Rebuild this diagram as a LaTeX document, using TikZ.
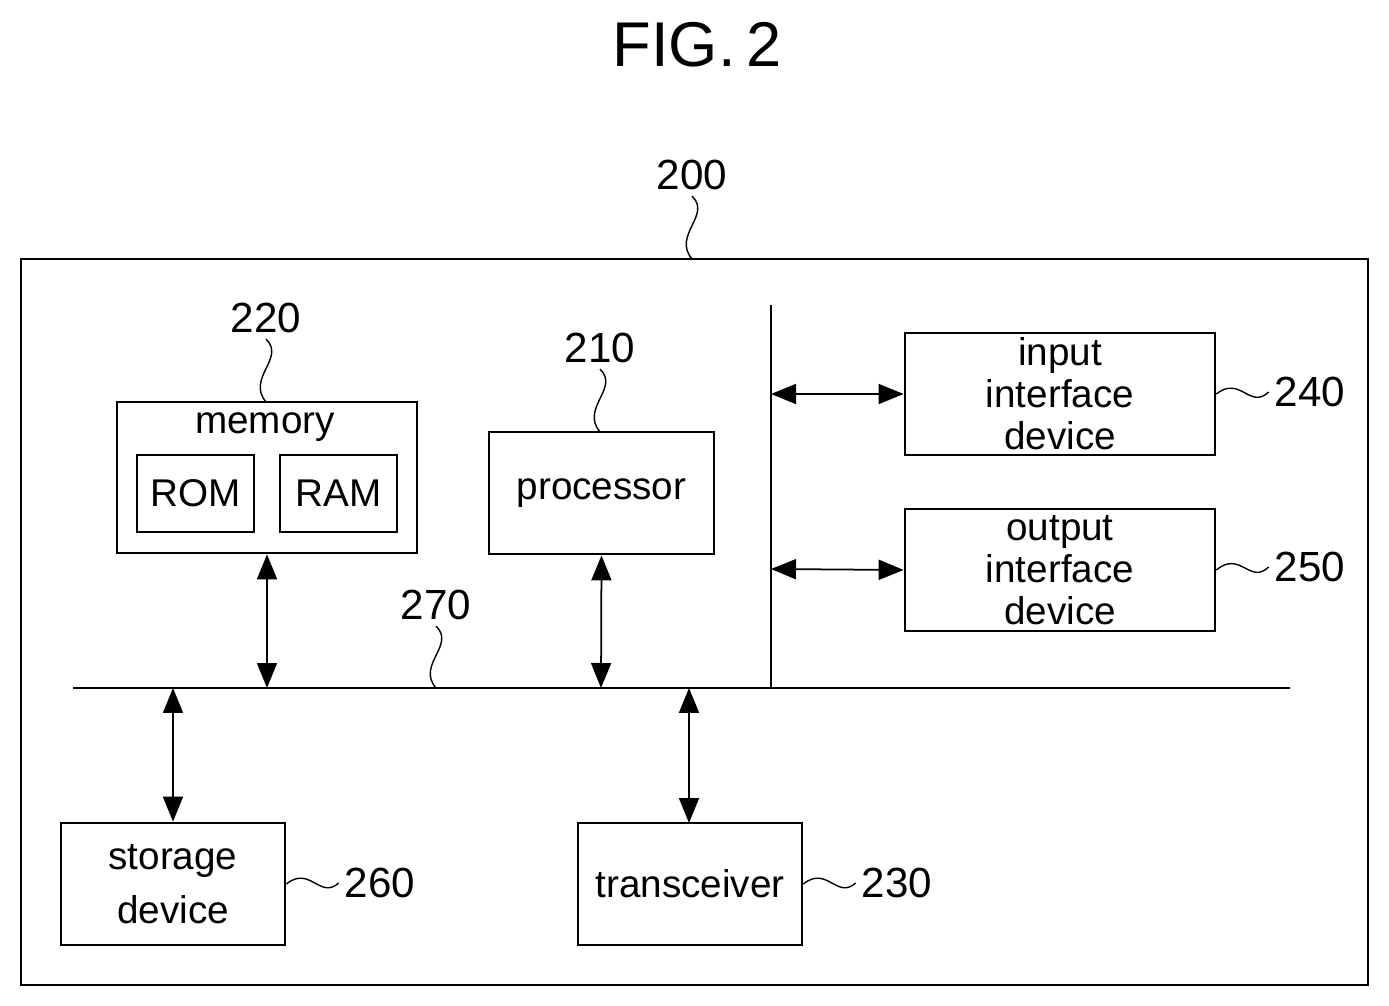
\documentclass[tikz,border=0pt]{standalone}
\usepackage{fontspec}
\setmainfont{Liberation Sans}
\usetikzlibrary{arrows.meta}
\tikzset{
    blk/.style={draw, line width=1.6pt, inner sep=0pt, align=center},
    bus/.style={line width=1.3pt},
    dbl/.style={line width=1pt, {Triangle[length=5mm,width=4mm]}-{Triangle[length=5mm,width=4mm]}},
    squig/.style={line width=0.8pt},
    lbl/.style={font=\fontsize{24}{28}\selectfont}
}
\begin{document}
\begin{tikzpicture}[x=0.02cm, y=-0.02cm, font=\fontsize{22}{27}\selectfont]
    \useasboundingbox (0,0) rectangle (1389,1006);

    \node (title) at (697,45) [font=\fontsize{36}{40}\selectfont] {FIG.\,2};
    \draw[line width=1.2pt] (21,259) rectangle (1368,985);

    % blocks
    \node (mem) at (267,477.5) [blk, minimum width=6cm, minimum height=3.02cm] {};
    \node at (265,427) {memory};
    \node (rom) at (195.5,493.5) [blk, minimum width=2.34cm, minimum height=1.54cm] {ROM};
    \node (ram) at (338.5,493.5) [blk, minimum width=2.34cm, minimum height=1.54cm] {RAM};
    \node (proc) at (601.5,493) [blk, minimum width=4.5cm, minimum height=2.44cm] {processor};
    \node (in) at (1060,394) [blk, minimum width=6.2cm, minimum height=2.44cm] {input\\[-3pt]interface\\[-3pt]device};
    \node (out) at (1060,570) [blk, minimum width=6.2cm, minimum height=2.44cm] {output\\[-3pt]interface\\[-3pt]device};
    \node (stor) at (173,884) [blk, minimum width=4.48cm, minimum height=2.44cm] {storage\\[4pt]device};
    \node (trx) at (690,884) [blk, minimum width=4.48cm, minimum height=2.44cm] {transceiver};

    % buses
    \coordinate (hl) at (73,688);
    \coordinate (hr) at (1290,688);
    \coordinate (vt) at (771,305);
    \coordinate (vb) at (771,688);
    \draw[bus] (hl) -- (hr);
    \draw[bus] (vt) -- (vb);

    % arrows
    \draw[dbl] (mem.south -| 267,0) -- (267,688);
    \draw[dbl] (proc.south) -- (601,688);
    \draw[dbl] (771,394) -- (in.west);
    \draw[dbl] (771,569) -- (out.west);
    \draw[dbl] (173,688) -- (stor.north);
    \draw[dbl] (689,688) -- (689,823);

    % reference numerals
    \node (n200) at (692,175) [lbl] {200};
    \node (n220) at (266,318) [lbl] {220};
    \node (n210) at (600,348) [lbl] {210};
    \node (n270) at (436,605) [lbl] {270};
    \node (n240) at (1310,392) [lbl] {240};
    \node (n250) at (1310,567) [lbl] {250};
    \node (n260) at (380,883) [lbl] {260};
    \node (n230) at (897,883) [lbl] {230};

    \draw[squig] (n200.south) .. controls (712,215) and (672,235) .. (692,259);
    \draw[squig] (n220.south) .. controls (286,358) and (246,378) .. (266,402);
    \draw[squig] (n210.south) .. controls (620,388) and (580,408) .. (600,432);
    \draw[squig] (n270.south) .. controls (456,645) and (416,665) .. (436,688);
    \draw[squig] (in.east) .. controls (1240,375) and (1250,410) .. (n240.west);
    \draw[squig] (out.east) .. controls (1240,550) and (1250,585) .. (n250.west);
    \draw[squig] (stor.east) .. controls (310,865) and (320,900) .. (n260.west);
    \draw[squig] (trx.east) .. controls (827,865) and (837,900) .. (n230.west);
\end{tikzpicture}
\end{document}
